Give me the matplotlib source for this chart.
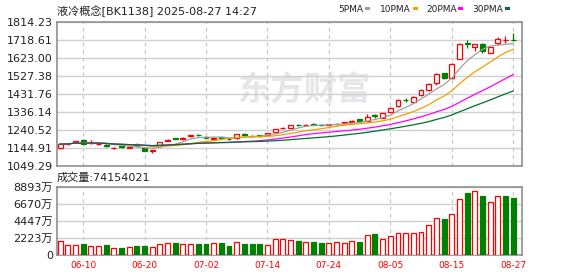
import matplotlib
matplotlib.use("Agg")
import matplotlib.pyplot as plt
from matplotlib.patches import Rectangle
import pandas as pd

plt.rcParams["font.family"] = ["DejaVu Sans", "Noto Sans CJK SC"]

# ---- data ----
title = "液冷概念[BK1138] 2025-08-27 14:27"
dates = pd.bdate_range("2025-06-05", "2025-08-27").strftime("%m-%d").tolist()
tick_labels = ["06-10", "06-20", "07-02", "07-14", "07-24", "08-05", "08-15", "08-27"]

opens = [1144, 1164, 1176, 1187, 1172, 1165, 1160, 1144, 1153, 1147,
         1158, 1145, 1127, 1155, 1184, 1197, 1192, 1206, 1216, 1203,
         1194, 1201, 1193, 1196, 1219, 1209, 1211, 1216, 1229, 1249,
         1253, 1268, 1264, 1272, 1268, 1267, 1270, 1276, 1284, 1297,
         1288, 1318, 1306, 1336, 1366, 1401, 1390, 1424, 1452, 1487,
         1540, 1514, 1617, 1700, 1678, 1697, 1649, 1702, 1715, 1718]
highs = [1170, 1172, 1182, 1190, 1185, 1172, 1164, 1150, 1156, 1152,
         1170, 1147, 1136, 1178, 1190, 1200, 1202, 1212, 1218, 1206,
         1202, 1204, 1196, 1218, 1222, 1214, 1214, 1226, 1247, 1256,
         1268, 1274, 1272, 1276, 1272, 1272, 1276, 1283, 1292, 1299,
         1325, 1325, 1330, 1360, 1404, 1410, 1420, 1456, 1490, 1540,
         1544, 1595, 1700, 1718, 1697, 1700, 1680, 1730, 1736, 1753]
lows = [1140, 1160, 1174, 1162, 1168, 1160, 1150, 1140, 1146, 1143,
        1150, 1128, 1120, 1152, 1180, 1190, 1186, 1204, 1208, 1195,
        1189, 1196, 1186, 1194, 1208, 1202, 1205, 1214, 1227, 1244,
        1250, 1260, 1262, 1266, 1262, 1264, 1268, 1274, 1282, 1282,
        1285, 1306, 1304, 1334, 1362, 1390, 1386, 1420, 1448, 1480,
        1512, 1512, 1615, 1674, 1660, 1648, 1647, 1691, 1700, 1710]
closes = [1165, 1167, 1180, 1166, 1176, 1168, 1157, 1147, 1149, 1149,
          1155, 1131, 1134, 1176, 1188, 1193, 1195, 1211, 1211, 1197,
          1196, 1198, 1190, 1217, 1211, 1207, 1208, 1224, 1245, 1252,
          1265, 1265, 1268, 1268, 1265, 1270, 1274, 1281, 1289, 1285,
          1307, 1315, 1328, 1356, 1398, 1399, 1416, 1452, 1482, 1535,
          1515, 1588, 1697, 1696, 1694, 1657, 1678, 1721, 1717, 1714]
# volume in 万
volumes = [1823, 1300, 1300, 1475, 1170, 1170, 1300, 910, 910, 1040,
           1170, 1170, 1040, 1475, 1560, 1605, 1475, 1475, 1475, 1475,
           1560, 1605, 1170, 1690, 1475, 1475, 1475, 1300, 2040, 2080,
           1950, 1820, 1690, 1690, 1560, 1560, 1690, 1560, 1820, 1690,
           2565, 2735, 2083, 2474, 2864, 2864, 2864, 2995, 3862, 4860,
           4730, 5295, 7290, 8070, 8330, 7720, 6860, 7680, 7680, 7415]
vol_up = [1, 1, 1, 0, 1, 1, 0, 1, 0, 1,
          0, 0, 1, 1, 1, 0, 1, 1, 0, 0,
          1, 0, 0, 1, 0, 0, 0, 1, 1, 1,
          1, 0, 1, 0, 0, 1, 1, 1, 1, 0,
          1, 0, 1, 1, 1, 1, 1, 1, 1, 1,
          0, 1, 1, 0, 1, 0, 1, 1, 0, 0]
last_volume = "74154021"

ma_windows = [5, 10, 20, 30]
ma_names = ["5PMA", "10PMA", "20PMA", "30PMA"]
price_ticks = [1049.29, 1144.91, 1240.52, 1336.14, 1431.76, 1527.38, 1623.00, 1718.61, 1814.23]
vol_ticks = [0, 2223, 4447, 6670, 8893]

RED = "#ff0000"
GREEN = "#008000"
MA_COLORS = ["#a0a0a0", "#f0a000", "#ff00ff", "#007030"]
GRID = "#d0d0d0"
SPINE = "#909090"

W, H = 578, 276


def fpos(x, y):
    # pixel position -> figure fraction
    return x / W, 1 - y / H


def style_axes(ax, tick_idx):
    for s in ax.spines.values():
        s.set_color(SPINE)
        s.set_linewidth(1.2)
    ax.set_xlim(-0.4, 60.15)
    ax.set_xticks(tick_idx)
    ax.tick_params(length=0, labelsize=8, pad=3, colors="#222222")
    ax.yaxis.grid(True, color=GRID, lw=1)
    ax.xaxis.grid(True, color="#c8c8c8", lw=0.9, ls=(0, (3, 3)))
    ax.set_axisbelow(True)


fig = plt.figure(figsize=(W / 100, H / 100), dpi=100)
ax = fig.add_axes([57 / W, 1 - 166 / H, 465 / W, 144.5 / H])
axv = fig.add_axes([57 / W, 1 - 255 / H, 465 / W, 68.3 / H])

n = len(closes)
tick_idx = [dates.index(d) for d in tick_labels]

# candles
for i in range(n):
    up = closes[i] >= opens[i]
    c = RED if up else GREEN
    lo, hi = min(opens[i], closes[i]), max(opens[i], closes[i])
    ax.vlines(i, lows[i], highs[i], color=c, lw=0.9, zorder=3)
    ax.add_patch(Rectangle((i - 0.32, lo), 0.64, max(hi - lo, 0.5),
                           facecolor="white" if up else GREEN,
                           edgecolor=c, lw=0.9, zorder=4))

# moving averages
close_s = pd.Series(closes)
for w, col in zip(ma_windows, MA_COLORS):
    ax.plot(range(n), close_s.rolling(w, min_periods=1).mean(), color=col, lw=0.9, zorder=5)

ax.set_ylim(price_ticks[0], price_ticks[-1])
ax.set_yticks(price_ticks)
ax.set_yticklabels([f"{v:.2f}" for v in price_ticks])
style_axes(ax, tick_idx)
ax.tick_params(labelbottom=False)

# watermark
ax.text(0.53, 0.52, "东方财富", transform=ax.transAxes, ha="center", va="center",
        fontsize=24, fontweight="bold", color="#e6e6ea", family="Noto Sans CJK SC", zorder=0)

# volume bars
for i in range(n):
    if vol_up[i]:
        axv.add_patch(Rectangle((i - 0.32, 0), 0.64, volumes[i],
                                facecolor="white", edgecolor=RED, lw=0.9, zorder=3))
    else:
        axv.add_patch(Rectangle((i - 0.32, 0), 0.64, volumes[i],
                                facecolor=GREEN, edgecolor=GREEN, lw=0.9, zorder=3))

axv.set_ylim(vol_ticks[0], vol_ticks[-1])
axv.set_yticks(vol_ticks)
axv.set_yticklabels([f"{v}万" if v else "0" for v in vol_ticks])
style_axes(axv, tick_idx)
axv.set_xticklabels(tick_labels)
axv.tick_params(axis="x", labelsize=6.5, labelcolor=RED, pad=4)

# header texts
fig.text(*fpos(57, 11), title, fontsize=8, va="center", ha="left", color="#222222")
fig.text(*fpos(57, 178), f"成交量:{last_volume}", fontsize=8, va="center", ha="left", color="#222222")

# legend: label followed by a small colored dash
leg_x = [338, 380, 426, 472]
rect_x = [365, 413, 458, 505]
for name, col, lx, rx in zip(ma_names, MA_COLORS, leg_x, rect_x):
    fig.text(*fpos(lx, 9), name, fontsize=6.5, va="center", ha="left", color="#222222")
    fig.patches.append(Rectangle(fpos(rx, 10), 5 / W, 3 / H, transform=fig.transFigure,
                                 facecolor=col, edgecolor="none"))

fig.savefig("out.png", dpi=100)
